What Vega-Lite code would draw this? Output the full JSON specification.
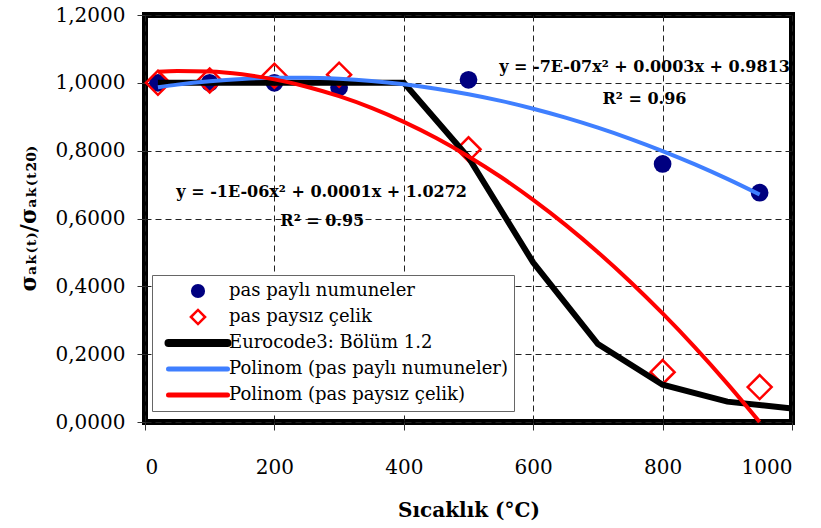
{
  "$schema": "https://vega.github.io/schema/vega-lite/v6.json",
  "width": 647,
  "height": 407,
  "autosize": {"type": "none"},
  "padding": {"left": 145, "top": 15, "right": 29, "bottom": 106},
  "background": "white",
  "view": {"stroke": "black", "strokeWidth": 6},
  "config": {
    "font": "DejaVu Serif",
    "axis": {
      "labelFont": "DejaVu Serif",
      "labelFontSize": 20,
      "labelColor": "black",
      "titleFont": "DejaVu Serif",
      "titleFontSize": 20,
      "titleFontWeight": "bold",
      "titleColor": "black",
      "domain": false,
      "tickColor": "#333",
      "tickSize": 8,
      "grid": true,
      "gridColor": "#222",
      "gridDash": [6, 4],
      "gridWidth": 1,
      "gridOpacity": 1
    }
  },
  "datasets": {
    "pts": [
      {"T": 20, "v": 1.0, "series": "pas paylı numuneler"},
      {"T": 100, "v": 1.0, "series": "pas paylı numuneler"},
      {"T": 200, "v": 1.0, "series": "pas paylı numuneler"},
      {"T": 300, "v": 0.986, "series": "pas paylı numuneler"},
      {"T": 500, "v": 1.009, "series": "pas paylı numuneler"},
      {"T": 800, "v": 0.761, "series": "pas paylı numuneler"},
      {"T": 950, "v": 0.676, "series": "pas paylı numuneler"},
      {"T": 20, "v": 1.0, "series": "pas paysız çelik"},
      {"T": 100, "v": 1.007, "series": "pas paysız çelik"},
      {"T": 200, "v": 1.021, "series": "pas paysız çelik"},
      {"T": 300, "v": 1.024, "series": "pas paysız çelik"},
      {"T": 500, "v": 0.804, "series": "pas paysız çelik"},
      {"T": 800, "v": 0.147, "series": "pas paysız çelik"},
      {"T": 950, "v": 0.103, "series": "pas paysız çelik"}
    ],
    "euro": [
      {"T": 20, "v": 1.0, "series": "Eurocode3: Bölüm 1.2"},
      {"T": 100, "v": 1.0, "series": "Eurocode3: Bölüm 1.2"},
      {"T": 200, "v": 1.0, "series": "Eurocode3: Bölüm 1.2"},
      {"T": 300, "v": 1.0, "series": "Eurocode3: Bölüm 1.2"},
      {"T": 400, "v": 1.0, "series": "Eurocode3: Bölüm 1.2"},
      {"T": 500, "v": 0.78, "series": "Eurocode3: Bölüm 1.2"},
      {"T": 600, "v": 0.47, "series": "Eurocode3: Bölüm 1.2"},
      {"T": 700, "v": 0.23, "series": "Eurocode3: Bölüm 1.2"},
      {"T": 800, "v": 0.11, "series": "Eurocode3: Bölüm 1.2"},
      {"T": 900, "v": 0.06, "series": "Eurocode3: Bölüm 1.2"},
      {"T": 1000, "v": 0.04, "series": "Eurocode3: Bölüm 1.2"}
    ],
    "polyBlue": [
      {"T": 20, "v": 0.987, "series": "Polinom (pas paylı numuneler)"},
      {"T": 50, "v": 0.9947, "series": "Polinom (pas paylı numuneler)"},
      {"T": 100, "v": 1.0047, "series": "Polinom (pas paylı numuneler)"},
      {"T": 150, "v": 1.0115, "series": "Polinom (pas paylı numuneler)"},
      {"T": 200, "v": 1.0149, "series": "Polinom (pas paylı numuneler)"},
      {"T": 250, "v": 1.0151, "series": "Polinom (pas paylı numuneler)"},
      {"T": 300, "v": 1.0119, "series": "Polinom (pas paylı numuneler)"},
      {"T": 350, "v": 1.0055, "series": "Polinom (pas paylı numuneler)"},
      {"T": 400, "v": 0.9957, "series": "Polinom (pas paylı numuneler)"},
      {"T": 450, "v": 0.9827, "series": "Polinom (pas paylı numuneler)"},
      {"T": 500, "v": 0.9663, "series": "Polinom (pas paylı numuneler)"},
      {"T": 550, "v": 0.9467, "series": "Polinom (pas paylı numuneler)"},
      {"T": 600, "v": 0.9237, "series": "Polinom (pas paylı numuneler)"},
      {"T": 650, "v": 0.8975, "series": "Polinom (pas paylı numuneler)"},
      {"T": 700, "v": 0.8679, "series": "Polinom (pas paylı numuneler)"},
      {"T": 750, "v": 0.8351, "series": "Polinom (pas paylı numuneler)"},
      {"T": 800, "v": 0.7989, "series": "Polinom (pas paylı numuneler)"},
      {"T": 850, "v": 0.7595, "series": "Polinom (pas paylı numuneler)"},
      {"T": 900, "v": 0.7167, "series": "Polinom (pas paylı numuneler)"},
      {"T": 950, "v": 0.6706, "series": "Polinom (pas paylı numuneler)"}
    ],
    "polyRed": [
      {"T": 20, "v": 1.033, "series": "Polinom (pas paysız çelik)"},
      {"T": 50, "v": 1.0351, "series": "Polinom (pas paysız çelik)"},
      {"T": 100, "v": 1.0333, "series": "Polinom (pas paysız çelik)"},
      {"T": 150, "v": 1.025, "series": "Polinom (pas paysız çelik)"},
      {"T": 200, "v": 1.0102, "series": "Polinom (pas paysız çelik)"},
      {"T": 250, "v": 0.9886, "series": "Polinom (pas paysız çelik)"},
      {"T": 300, "v": 0.9606, "series": "Polinom (pas paysız çelik)"},
      {"T": 350, "v": 0.9261, "series": "Polinom (pas paysız çelik)"},
      {"T": 400, "v": 0.8849, "series": "Polinom (pas paysız çelik)"},
      {"T": 450, "v": 0.8373, "series": "Polinom (pas paysız çelik)"},
      {"T": 500, "v": 0.783, "series": "Polinom (pas paysız çelik)"},
      {"T": 550, "v": 0.7223, "series": "Polinom (pas paysız çelik)"},
      {"T": 600, "v": 0.6549, "series": "Polinom (pas paysız çelik)"},
      {"T": 650, "v": 0.5811, "series": "Polinom (pas paysız çelik)"},
      {"T": 700, "v": 0.5006, "series": "Polinom (pas paysız çelik)"},
      {"T": 750, "v": 0.4136, "series": "Polinom (pas paysız çelik)"},
      {"T": 800, "v": 0.32, "series": "Polinom (pas paysız çelik)"},
      {"T": 850, "v": 0.22, "series": "Polinom (pas paysız çelik)"},
      {"T": 900, "v": 0.1133, "series": "Polinom (pas paysız çelik)"},
      {"T": 950, "v": 0.0, "series": "Polinom (pas paysız çelik)"}
    ],
    "notes": [
      {"T": 772, "v": 1.048, "label": "y = -7E-07x² + 0.0003x + 0.9813"},
      {"T": 772, "v": 0.952, "label": "R² = 0.96"},
      {"T": 273, "v": 0.679, "label": "y = -1E-06x² + 0.0001x + 1.0272"},
      {"T": 274, "v": 0.593, "label": "R² = 0.95"}
    ]
  },
  "encoding": {
    "x": {
      "field": "T", "type": "quantitative",
      "scale": {"domain": [0, 1000], "nice": false},
      "axis": {
        "values": [0, 200, 400, 600, 800, 1000],
        "format": "d",
        "labelPadding": 27,
        "title": "Sıcaklık (°C)",
        "titleY": 88,
        "titleBaseline": "middle"
      }
    },
    "y": {
      "field": "v", "type": "quantitative",
      "scale": {"domain": [0, 1.2], "nice": false, "zero": false},
      "axis": {
        "values": [0, 0.2, 0.4, 0.6, 0.8, 1.0, 1.2],
        "labelExpr": "replace(format(datum.value, '.4f'), '.', ',')",
        "labelPadding": 12,
        "title": "σₐₖ₍ₜ₎/σₐₖ₍ₜ₂₀₎",
        "titleFontSize": 22,
        "titleX": -117,
        "titleY": 203,
        "titleAngle": -90,
        "titleAlign": "center",
        "titleBaseline": "middle"
      }
    }
  },
  "layer": [
    {
      "data": {"name": "pts"},
      "transform": [{"filter": "datum.series == 'pas paylı numuneler'"}],
      "mark": {"type": "point", "shape": "circle", "filled": true, "size": 314, "opacity": 1, "strokeWidth": 0},
      "encoding": {
        "color": {
          "field": "series", "type": "nominal",
          "scale": {
            "domain": ["pas paylı numuneler", "pas paysız çelik", "Eurocode3: Bölüm 1.2", "Polinom (pas paylı numuneler)", "Polinom (pas paysız çelik)"],
            "range": ["#000080", "#ff0000", "#000000", "#3f7fff", "#ff0000"]
          },
          "legend": {
            "orient": "none",
            "legendX": 7,
            "legendY": 260,
            "title": null,
            "fillColor": "white",
            "strokeColor": "#666666",
            "padding": 6,
            "labelFont": "DejaVu Serif",
            "labelFontSize": 18,
            "labelColor": "black",
            "labelLimit": 600,
            "labelOffset": 3,
            "rowPadding": 6,
            "clipHeight": 20,
            "symbolType": "stroke",
            "symbolSize": 3481,
            "encoding": {
              "symbols": {
                "x": {"value": 40},
                "shape": {"value": {"expr": "datum.value == 'pas paylı numuneler' ? 'circle' : datum.value == 'pas paysız çelik' ? 'diamond' : 'stroke'"}},
                "size": {"value": {"expr": "datum.value == 'pas paylı numuneler' ? 201 : datum.value == 'pas paysız çelik' ? 200 : 3481"}},
                "fillOpacity": {"value": {"expr": "datum.value == 'pas paylı numuneler' ? 1 : 0"}},
                "stroke": {"value": {"expr": "datum.value == 'pas paylı numuneler' ? '#000080' : datum.value == 'Eurocode3: Bölüm 1.2' ? '#000000' : datum.value == 'Polinom (pas paylı numuneler)' ? '#3f7fff' : '#ff0000'"}},
                "strokeWidth": {"value": {"expr": "datum.value == 'pas paylı numuneler' ? 0 : datum.value == 'pas paysız çelik' ? 2.5 : datum.value == 'Eurocode3: Bölüm 1.2' ? 8 : 5"}},
                "opacity": {"value": 1},
                "strokeCap": {"value": "round"}
              },
              "labels": {
                "x": {"value": 71}
              }
            }
          }
        }
      }
    },
    {
      "data": {"name": "pts"},
      "transform": [{"filter": "datum.series == 'pas paysız çelik'"}],
      "mark": {"type": "point", "shape": "diamond", "filled": false, "size": 576, "opacity": 1, "strokeWidth": 2.5},
      "encoding": {
        "color": {"field": "series", "type": "nominal"}
      }
    },
    {
      "data": {"name": "euro"},
      "mark": {"type": "line", "strokeWidth": 6, "strokeJoin": "miter"},
      "encoding": {
        "color": {"field": "series", "type": "nominal"}
      }
    },
    {
      "data": {"name": "polyBlue"},
      "mark": {"type": "line", "strokeWidth": 4, "interpolate": "monotone"},
      "encoding": {
        "color": {"field": "series", "type": "nominal"}
      }
    },
    {
      "data": {"name": "polyRed"},
      "mark": {"type": "line", "strokeWidth": 4, "interpolate": "monotone"},
      "encoding": {
        "color": {"field": "series", "type": "nominal"}
      }
    },
    {
      "data": {"name": "notes"},
      "mark": {"type": "text", "font": "DejaVu Serif", "fontSize": 16, "fontWeight": "bold", "color": "black", "align": "center", "baseline": "middle"},
      "encoding": {
        "text": {"field": "label", "type": "nominal"}
      }
    }
  ]
}
